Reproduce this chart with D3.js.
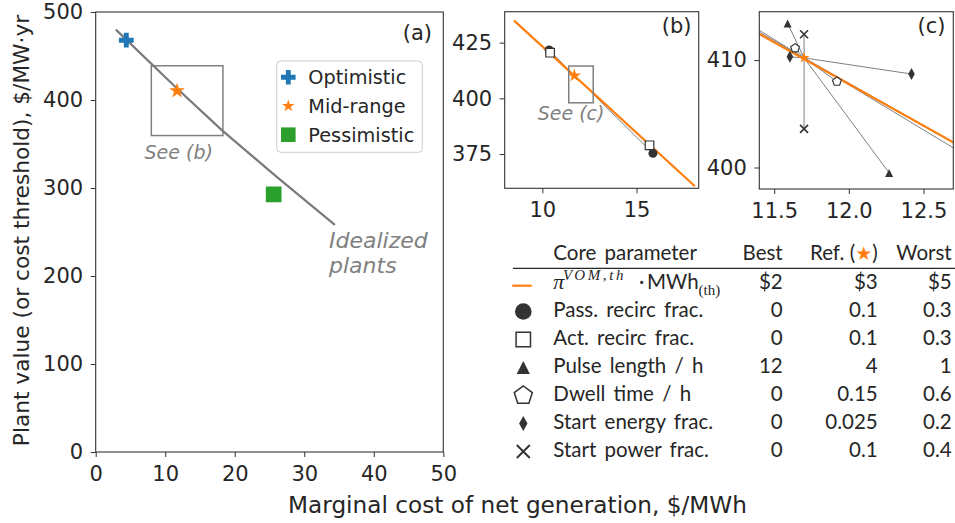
<!DOCTYPE html>
<html><head><meta charset="utf-8">
<script src="https://cdn.jsdelivr.net/npm/d3@7"></script>
<style>body{margin:0;background:#fff;} svg{display:block;}</style>
</head><body><svg id="chart" width="955" height="523"></svg>
<script>
// ---------------- data ----------------
const idealX = [2.9, 11.7, 18.1, 26.0, 34.4];
const idealY = [480, 413, 366, 313, 258];
const scenarioNames = ["Optimistic", "Mid-range", "Pessimistic"];
const scenarioX = [4.4, 11.7, 25.6];
const scenarioY = [468, 410.4, 292.8];
const scenarioColors = ["#1f77b4", "#ff7f0e", "#2ca02c"];
const vomX = [8.5, 18.1];
const vomY = [434.9, 360.5];
const refX = 11.7, refY = 410.2;
const paramNames = ["Pass. recirc frac.", "Act. recirc frac.", "Pulse length / h", "Dwell time / h", "Start energy frac.", "Start power frac."];
const paramMarkers = ["circle", "square", "triangle", "pentagon", "thindiamond", "x"];
const paramBestX = [10.36, 10.41, 11.59, 11.64, 11.605, 11.70];
const paramBestY = [421.7, 420.5, 413.4, 411.1, 410.3, 412.4];
const paramWorstX = [15.87, 15.69, 12.27, 11.92, 12.42, 11.70];
const paramWorstY = [375.3, 378.9, 399.5, 408.0, 408.7, 403.6];
const tableBest = ["$2", "0", "0", "12", "0", "0", "0"];
const tableRef = ["$3", "0.1", "0.1", "4", "0.15", "0.025", "0.1"];
const tableWorst = ["$5", "0.3", "0.3", "1", "0.6", "0.2", "0.4"];
const ticksAX = [0, 10, 20, 30, 40, 50];
const ticksAY = [0, 100, 200, 300, 400, 500];
const ticksBX = [10, 15];
const ticksBY = [375, 400, 425];
const ticksCX = [11.5, 12.0, 12.5];
const ticksCY = [400, 410];

// ---------------- layout ----------------
const svg = d3.select("#chart");
const TXT = "#262626", SPINE = "#333333", GREY = "#808080";
const SANS = "DejaVu Sans";
const xa = d3.scaleLinear([0, 50], [95.7, 443.3]);
const ya = d3.scaleLinear([0, 500], [452, 12]);
const xb = d3.scaleLinear([8, 18.3], [504.7, 698.7]);
const yb = d3.scaleLinear([359.6, 438.9], [188.3, 11.7]);
const xc = d3.scaleLinear([11.4, 12.7], [759.3, 953.3]);
const yc = d3.scaleLinear([398, 414.5], [189, 11.7]);

function mpath(type, r) {
  switch (type) {
    case "circle": return d3.symbol(d3.symbolCircle, Math.PI * r * r)();
    case "square": return `M${-r},${-r}h${2*r}v${2*r}h${-2*r}Z`;
    case "triangle": return `M0,${-r}L${r},${r}L${-r},${r}Z`;
    case "pentagon": {
      let p = [];
      for (let i = 0; i < 5; i++) { const a = -Math.PI/2 + i*2*Math.PI/5; p.push([r*Math.cos(a), r*Math.sin(a)]); }
      return "M" + p.map(q => q.join(",")).join("L") + "Z";
    }
    case "thindiamond": return `M0,${-r}L${0.55*r},0L0,${r}L${-0.55*r},0Z`;
    case "x": return `M${-r},${-r}L${r},${r}M${-r},${r}L${r},${-r}`;
    case "plus": return d3.symbol(d3.symbolCross, 5 * Math.pow(2*r/3, 2))();
    case "star": return d3.symbol(d3.symbolStar, r * r / 0.8908130915)();
  }
}
function mstyle(sel, type, sw) {
  if (type === "square" || type === "pentagon") sel.attr("fill", "#fff").attr("stroke", SPINE).attr("stroke-width", sw);
  else if (type === "x") sel.attr("fill", "none").attr("stroke", SPINE).attr("stroke-width", sw + 0.4);
  else sel.attr("fill", SPINE).attr("stroke", "none");
}
const smallR = {circle: 4.5, square: 4.3, triangle: 4, pentagon: 4.6, thindiamond: 6, x: 4};
const tableR = {circle: 8.3, square: 7.2, triangle: 6.6, pentagon: 9.5, thindiamond: 7.6, x: 6.5};

function frame(x, y, id) {
  const [x0, x1] = x.range(), [y1, y0] = y.range();
  svg.append("clipPath").attr("id", id).append("rect")
    .attr("x", x0).attr("y", y0).attr("width", x1 - x0).attr("height", y1 - y0);
}
function axes(x, y, tx, ty, fmtX) {
  const [x0, x1] = x.range(), [y1, y0] = y.range();
  const gx = svg.append("g").attr("transform", `translate(0,${y1})`)
    .call(d3.axisBottom(x).tickValues(tx).tickSize(5).tickPadding(9).tickFormat(fmtX || d3.format("d")));
  const gy = svg.append("g").attr("transform", `translate(${x0},0)`)
    .call(d3.axisLeft(y).tickValues(ty).tickSize(5).tickPadding(7.5).tickFormat(d3.format("d")));
  [gx, gy].forEach(g => {
    g.select(".domain").remove();
    g.selectAll(".tick line").attr("stroke", SPINE).attr("stroke-width", 1);
    g.selectAll(".tick text").attr("fill", TXT).attr("font-family", SANS).attr("font-size", 21);
  });
  svg.append("rect").attr("x", x0).attr("y", y0).attr("width", x1 - x0).attr("height", y1 - y0)
    .attr("fill", "none").attr("stroke", SPINE).attr("stroke-width", 1.1);
}

// ---------------- panel (a) ----------------
frame(xa, ya, "clipA");
const ga = svg.append("g").attr("clip-path", "url(#clipA)");
ga.append("rect").attr("x", xa(8)).attr("y", ya(438.9))
  .attr("width", xa(18.3) - xa(8)).attr("height", ya(359.6) - ya(438.9))
  .attr("fill", "none").attr("stroke", GREY).attr("stroke-width", 1.5);
ga.append("path").datum(d3.zip(idealX, idealY))
  .attr("d", d3.line().x(d => xa(d[0])).y(d => ya(d[1])))
  .attr("fill", "none").attr("stroke", "#7a7a7a").attr("stroke-width", 2.2);
const aTypes = ["plus", "star", "square"];
const aR = [7.4, 8.2, 7.85];
scenarioNames.forEach((n, i) => {
  ga.append("path").attr("d", mpath(aTypes[i], aR[i]))
    .attr("transform", `translate(${xa(scenarioX[i])},${ya(scenarioY[i])})`)
    .attr("fill", scenarioColors[i]);
});
axes(xa, ya, ticksAX, ticksAY);
svg.append("text").attr("x", 432).attr("y", 40).attr("text-anchor", "end")
  .attr("font-family", SANS).attr("font-size", 21).attr("fill", TXT).text("(a)");
svg.append("text").attr("x", 144.5).attr("y", 159).attr("font-family", SANS).attr("font-style", "italic")
  .attr("font-size", 19).attr("fill", GREY).text("See (b)");
svg.append("text").attr("x", 329).attr("y", 248).attr("font-family", SANS).attr("font-style", "italic")
  .attr("font-size", 22).attr("fill", GREY).text("Idealized");
svg.append("text").attr("x", 329).attr("y", 273).attr("font-family", SANS).attr("font-style", "italic")
  .attr("font-size", 22).attr("fill", GREY).text("plants");
// legend
svg.append("rect").attr("x", 276.7).attr("y", 61).attr("width", 145.6).attr("height", 91.3).attr("rx", 4)
  .attr("fill", "#fff").attr("fill-opacity", 0.85).attr("stroke", "#cccccc").attr("stroke-width", 1);
const legR = [7.3, 6.6, 7.3];
scenarioNames.forEach((n, i) => {
  const cy = 77.3 + i * 28.7;
  svg.append("path").attr("d", mpath(aTypes[i], legR[i])).attr("transform", `translate(288.3,${cy})`)
    .attr("fill", scenarioColors[i]);
  svg.append("text").attr("x", 308.3).attr("y", cy + 6.8).attr("font-family", SANS).attr("font-size", 19.3)
    .attr("fill", TXT).text(n);
});

// ---------------- panels (b) and (c) ----------------
function sensPanel(x, y, clipId, starR, which) {
  frame(x, y, clipId);
  const g = svg.append("g").attr("clip-path", `url(#${clipId})`);
  which.forEach(i => {
    g.append("path").datum([[paramBestX[i], paramBestY[i]], [refX, refY], [paramWorstX[i], paramWorstY[i]]])
      .attr("d", d3.line().x(d => x(d[0])).y(d => y(d[1])))
      .attr("fill", "none").attr("stroke", GREY).attr("stroke-width", 1);
  });
  g.append("path").datum(d3.zip(vomX, vomY))
    .attr("d", d3.line().x(d => x(d[0])).y(d => y(d[1])))
    .attr("fill", "none").attr("stroke", "#ff7f0e").attr("stroke-width", 2.2);
  which.forEach(i => {
    [[paramBestX[i], paramBestY[i]], [paramWorstX[i], paramWorstY[i]]].forEach(p => {
      const m = g.append("path").attr("d", mpath(paramMarkers[i], smallR[paramMarkers[i]]))
        .attr("transform", `translate(${x(p[0])},${y(p[1])})`);
      mstyle(m, paramMarkers[i], 1.2);
    });
  });
  g.append("path").attr("d", mpath("star", starR)).attr("transform", `translate(${x(refX)},${y(refY)})`)
    .attr("fill", "#ff7f0e");
  return g;
}
const gb = sensPanel(xb, yb, "clipB", 7, [0, 1]);
gb.append("rect").attr("x", xb(11.4)).attr("y", yb(414.5)).attr("width", xb(12.7) - xb(11.4))
  .attr("height", yb(398) - yb(414.5)).attr("fill", "none").attr("stroke", GREY).attr("stroke-width", 1.5);
axes(xb, yb, ticksBX, ticksBY);
svg.append("text").attr("x", 537.7).attr("y", 120).attr("font-family", SANS).attr("font-style", "italic")
  .attr("font-size", 19).attr("fill", GREY).text("See (c)");
svg.append("text").attr("x", 691.5).attr("y", 33).attr("text-anchor", "end")
  .attr("font-family", SANS).attr("font-size", 21).attr("fill", TXT).text("(b)");

sensPanel(xc, yc, "clipC", 5.8, [0, 1, 2, 3, 4, 5]);
axes(xc, yc, ticksCX, ticksCY, d3.format(".1f"));
svg.append("text").attr("x", 945.5).attr("y", 33).attr("text-anchor", "end")
  .attr("font-family", SANS).attr("font-size", 21).attr("fill", TXT).text("(c)");

// ---------------- axis labels ----------------
svg.append("text").attr("x", 517.5).attr("y", 513).attr("text-anchor", "middle")
  .attr("font-family", SANS).attr("font-size", 23.2).attr("fill", TXT).text("Marginal cost of net generation, $/MWh");
svg.append("text").attr("transform", "translate(29,230.5) rotate(-90)").attr("text-anchor", "middle")
  .attr("font-family", SANS).attr("font-size", 21.7).attr("fill", TXT).text("Plant value (or cost threshold), $/MW·yr");

// ---------------- table ----------------
const TF = "Lato", TS = 20.5;
const colBest = 782.7, colRef = 877.7, colWorst = 951.7, colLabel = 553.3, colMark = 523.3;
function ttext(x, yy, s, anchor) {
  return svg.append("text").attr("x", x).attr("y", yy).attr("text-anchor", anchor || "start")
    .attr("font-family", TF).attr("font-size", TS).attr("word-spacing", 3).attr("fill", TXT).text(s);
}
ttext(colLabel, 260, "Core parameter");
ttext(colBest, 260, "Best", "end");
const refHead = svg.append("text").attr("x", colRef).attr("y", 260).attr("text-anchor", "end")
  .attr("font-family", TF).attr("font-size", TS).attr("fill", TXT);
refHead.append("tspan").text("Ref. (");
refHead.append("tspan").attr("fill", "#ff7f0e").attr("font-family", SANS).attr("font-size", 19).text("★");
refHead.append("tspan").text(")");
ttext(colWorst, 260, "Worst", "end");
svg.append("line").attr("x1", 513).attr("x2", 955).attr("y1", 268.3).attr("y2", 268.3)
  .attr("stroke", TXT).attr("stroke-width", 1.2);
const rowY = i => 289 + i * 28.0;
// row 0: VOM line
svg.append("line").attr("x1", 512.3).attr("x2", 531.7).attr("y1", 285.7).attr("y2", 285.7)
  .attr("stroke", "#ff7f0e").attr("stroke-width", 2.2);
const vt = svg.append("text").attr("x", colLabel).attr("y", rowY(0)).attr("fill", TXT);
vt.append("tspan").attr("font-family", "Liberation Serif").attr("font-style", "italic").attr("font-size", 22).text("π");
vt.append("tspan").attr("x", 563).attr("dy", -9).attr("font-family", "Liberation Serif").attr("font-style", "italic")
  .attr("font-size", 15).attr("letter-spacing", 2.6).text("VOM,th");
vt.append("tspan").attr("x", 639).attr("dy", 9).attr("font-family", TF).attr("font-size", TS).text("·");
vt.append("tspan").attr("x", 647).attr("font-family", TF).attr("font-size", TS).text("MWh");
vt.append("tspan").attr("dy", 6).attr("font-family", "Liberation Serif").attr("font-size", 15).text("(th)");
ttext(colBest, rowY(0), tableBest[0], "end");
ttext(colRef, rowY(0), tableRef[0], "end");
ttext(colWorst, rowY(0), tableWorst[0], "end");
paramNames.forEach((n, i) => {
  const yy = rowY(i + 1);
  const m = svg.append("path").attr("d", mpath(paramMarkers[i], tableR[paramMarkers[i]]))
    .attr("transform", `translate(${colMark},${yy - 5.5})`);
  mstyle(m, paramMarkers[i], 1.5);
  ttext(colLabel, yy, n);
  ttext(colBest, yy, tableBest[i + 1], "end");
  ttext(colRef, yy, tableRef[i + 1], "end");
  ttext(colWorst, yy, tableWorst[i + 1], "end");
});
</script></body></html>
